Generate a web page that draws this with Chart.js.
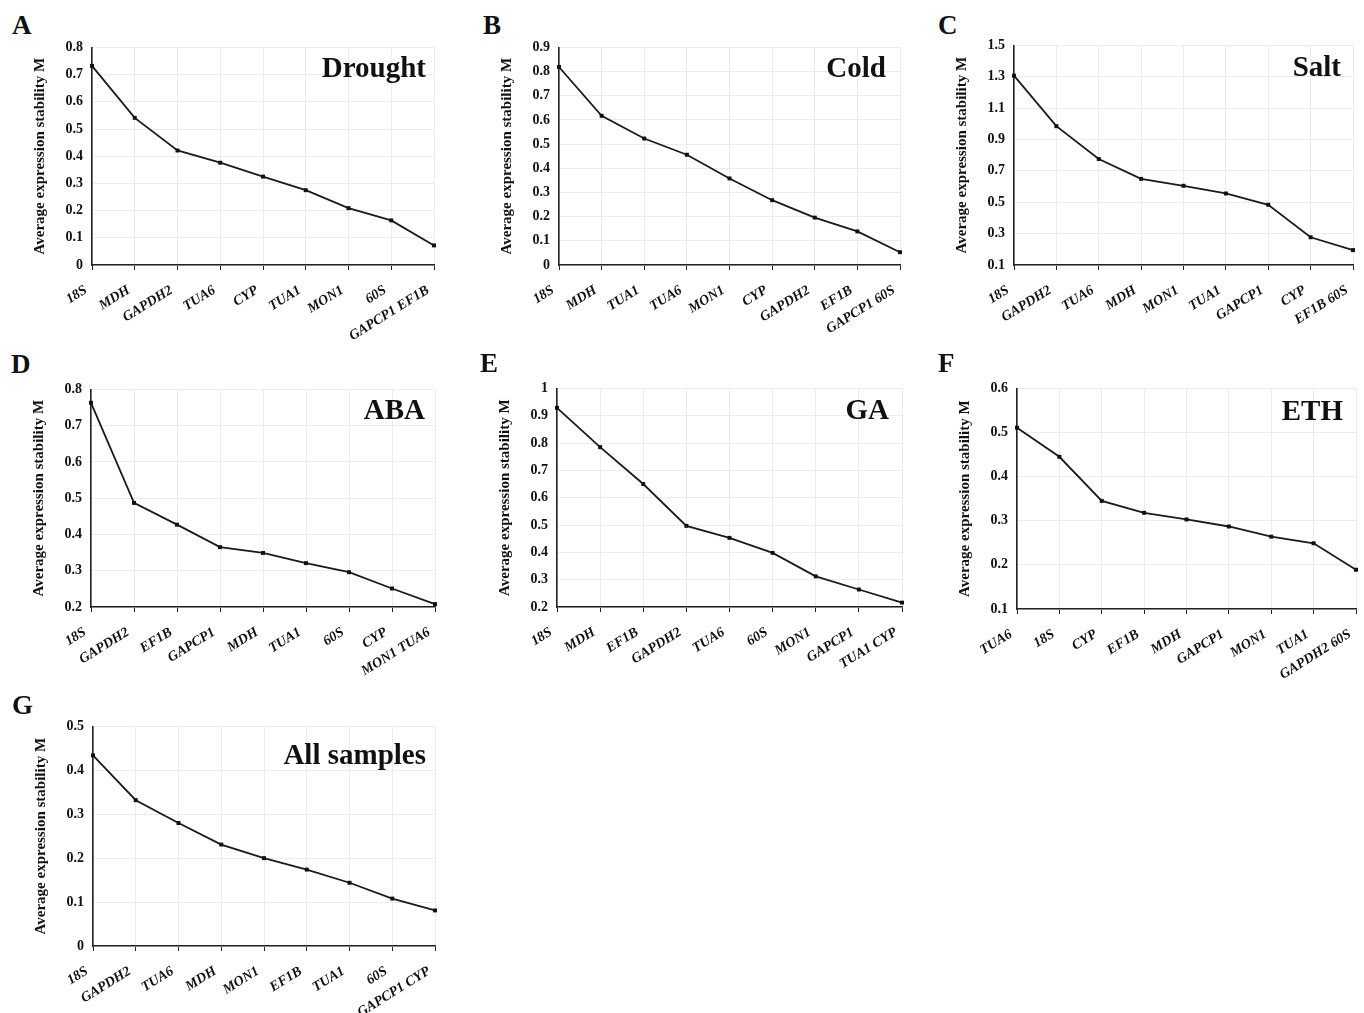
<!DOCTYPE html>
<html>
<head>
<meta charset="utf-8">
<script src="https://cdn.jsdelivr.net/npm/chart.js@4.4.0/dist/chart.umd.min.js"></script>
<style>
	body {
		margin: 0;
		background: #fff;
		width: 1364px;
		height: 1013px;
		position: relative;
		overflow: hidden;
		font-family: "Liberation Serif", "Times New Roman", serif;
	}
	.panel {
		position: absolute;
	}
	.letter {
		position: absolute;
		font-weight: bold;
		font-size: 27px;
		line-height: 1;
		color: #111;
	}
</style>
</head>
<body>
<div id="figure"></div>
<script>
// average expression stability (geNorm M) per treatment
const droughtGenes = ["18S", "MDH", "GAPDH2", "TUA6", "CYP", "TUA1", "MON1", "60S", "GAPCP1 EF1B"];
const droughtM = [0.732, 0.541, 0.421, 0.376, 0.325, 0.275, 0.209, 0.164, 0.072];

const coldGenes = ["18S", "MDH", "TUA1", "TUA6", "MON1", "CYP", "GAPDH2", "EF1B", "GAPCP1 60S"];
const coldM = [0.819, 0.617, 0.523, 0.456, 0.358, 0.268, 0.196, 0.139, 0.053];

const saltGenes = ["18S", "GAPDH2", "TUA6", "MDH", "MON1", "TUA1", "GAPCP1", "CYP", "EF1B 60S"];
const saltM = [1.307, 0.985, 0.776, 0.649, 0.605, 0.556, 0.484, 0.277, 0.195];

const abaGenes = ["18S", "GAPDH2", "EF1B", "GAPCP1", "MDH", "TUA1", "60S", "CYP", "MON1 TUA6"];
const abaM = [0.763, 0.487, 0.427, 0.365, 0.349, 0.321, 0.296, 0.251, 0.208];

const gaGenes = ["18S", "MDH", "EF1B", "GAPDH2", "TUA6", "60S", "MON1", "GAPCP1", "TUA1 CYP"];
const gaM = [0.929, 0.785, 0.650, 0.497, 0.453, 0.398, 0.312, 0.264, 0.216];

const ethGenes = ["TUA6", "18S", "CYP", "EF1B", "MDH", "GAPCP1", "MON1", "TUA1", "GAPDH2 60S"];
const ethM = [0.511, 0.445, 0.345, 0.318, 0.303, 0.287, 0.264, 0.249, 0.189];

const allGenes = ["18S", "GAPDH2", "TUA6", "MDH", "MON1", "EF1B", "TUA1", "60S", "GAPCP1 CYP"];
const allM = [0.434, 0.332, 0.280, 0.231, 0.200, 0.174, 0.144, 0.108, 0.081];

// y axis ranges [min, max, step]
const droughtRange = [0, 0.8, 0.1];
const coldRange = [0, 0.9, 0.1];
const saltRange = [0.1, 1.5, 0.2];
const abaRange = [0.2, 0.8, 0.1];
const gaRange = [0.2, 1, 0.1];
const ethRange = [0.1, 0.6, 0.1];
const allRange = [0, 0.5, 0.1];

const FONT = '"Liberation Serif", "Times New Roman", serif';
const Y_AXIS_W = 92;
const PAD_TOP = 16;
const PAD_RIGHT = 22;
const X_AXIS_H = 84;

// layout: plot area [left, top, right, bottom], letter [left, top], title offset
const panels = [
	{ letter: "A", title: "Drought", genes: droughtGenes, values: droughtM, range: droughtRange, plot: [92, 46, 434, 265], letterPos: [12, 12], titleOff: [8, 30] },
	{ letter: "B", title: "Cold", genes: coldGenes, values: coldM, range: coldRange, plot: [559, 46, 900, 265], letterPos: [483, 12], titleOff: [14, 30] },
	{ letter: "C", title: "Salt", genes: saltGenes, values: saltM, range: saltRange, plot: [1014, 44, 1353, 265], letterPos: [938, 12], titleOff: [12, 31] },
	{ letter: "D", title: "ABA", genes: abaGenes, values: abaM, range: abaRange, plot: [91, 388, 435, 607], letterPos: [11, 351], titleOff: [10, 30] },
	{ letter: "E", title: "GA", genes: gaGenes, values: gaM, range: gaRange, plot: [557, 387, 902, 607], letterPos: [480, 350], titleOff: [13, 31] },
	{ letter: "F", title: "ETH", genes: ethGenes, values: ethM, range: ethRange, plot: [1017, 387, 1356, 609], letterPos: [938, 350], titleOff: [13, 32] },
	{ letter: "G", title: "All samples", genes: allGenes, values: allM, range: allRange, plot: [93, 725, 435, 946], letterPos: [12, 692], titleOff: [9, 38] },
];

// big bold label inside the plot, top right
const panelTitlePlugin = {
	id: "panelTitle",
	afterDraw(chart, args, opts) {
		const { ctx, chartArea } = chart;
		ctx.save();
		ctx.font = "bold 29px " + FONT;
		ctx.fillStyle = "#111";
		ctx.textAlign = "right";
		ctx.textBaseline = "alphabetic";
		ctx.fillText(opts.text, chartArea.right - opts.dx, chartArea.top + opts.dy);
		ctx.restore();
	},
};

const figure = document.getElementById("figure");

panels.forEach((p) => {
	const [left, top, right, bottom] = p.plot;

	const letterDiv = document.createElement("div");
	letterDiv.className = "letter";
	letterDiv.style.left = p.letterPos[0] + "px";
	letterDiv.style.top = p.letterPos[1] + "px";
	letterDiv.textContent = p.letter;
	figure.appendChild(letterDiv);

	const box = document.createElement("div");
	box.className = "panel";
	box.style.left = left - Y_AXIS_W + "px";
	box.style.top = top - PAD_TOP + "px";
	box.style.width = right - left + Y_AXIS_W + PAD_RIGHT + "px";
	box.style.height = bottom - top + PAD_TOP + X_AXIS_H + "px";
	const canvas = document.createElement("canvas");
	box.appendChild(canvas);
	figure.appendChild(box);

	new Chart(canvas, {
		type: "line",
		data: {
			labels: p.genes,
			datasets: [
				{
					data: p.values,
					borderColor: "#1a1a1a",
					borderWidth: 1.8,
					tension: 0,
					pointStyle: "rect",
					pointRadius: 2.8,
					pointBackgroundColor: "#111",
					pointBorderWidth: 0,
					clip: false,
				},
			],
		},
		plugins: [panelTitlePlugin],
		options: {
			responsive: true,
			maintainAspectRatio: false,
			animation: false,
			layout: { padding: { top: PAD_TOP, right: PAD_RIGHT, left: 0, bottom: 0 } },
			plugins: {
				legend: { display: false },
				tooltip: { enabled: false },
				panelTitle: { text: p.title, dx: p.titleOff[0], dy: p.titleOff[1] },
			},
			scales: {
				x: {
					offset: false,
					grid: { color: "#ececec", tickColor: "#222", tickLength: 5 },
					border: { color: "#222", width: 1.6 },
					ticks: {
						autoSkip: false,
						minRotation: 32,
						maxRotation: 32,
						padding: 12,
						labelOffset: -6,
						color: "#111",
						font: { family: FONT, size: 14, weight: "bold", style: "italic" },
					},
					afterFit(scale) {
						scale.height = X_AXIS_H;
					},
				},
				y: {
					min: p.range[0],
					max: p.range[1],
					grid: { color: "#ececec", drawTicks: false },
					border: { color: "#222", width: 1.6 },
					ticks: {
						stepSize: p.range[2],
						padding: 9,
						color: "#111",
						font: { family: FONT, size: 14, weight: "bold" },
						callback: (v) => String(+v.toFixed(2)),
					},
					title: {
						display: true,
						text: "Average expression stability M",
						color: "#111",
						font: { family: FONT, size: 15, weight: "bold" },
						padding: { top: 31, bottom: 0 },
					},
					afterFit(scale) {
						scale.width = Y_AXIS_W;
					},
				},
			},
		},
	});
});
</script>
</body>
</html>
